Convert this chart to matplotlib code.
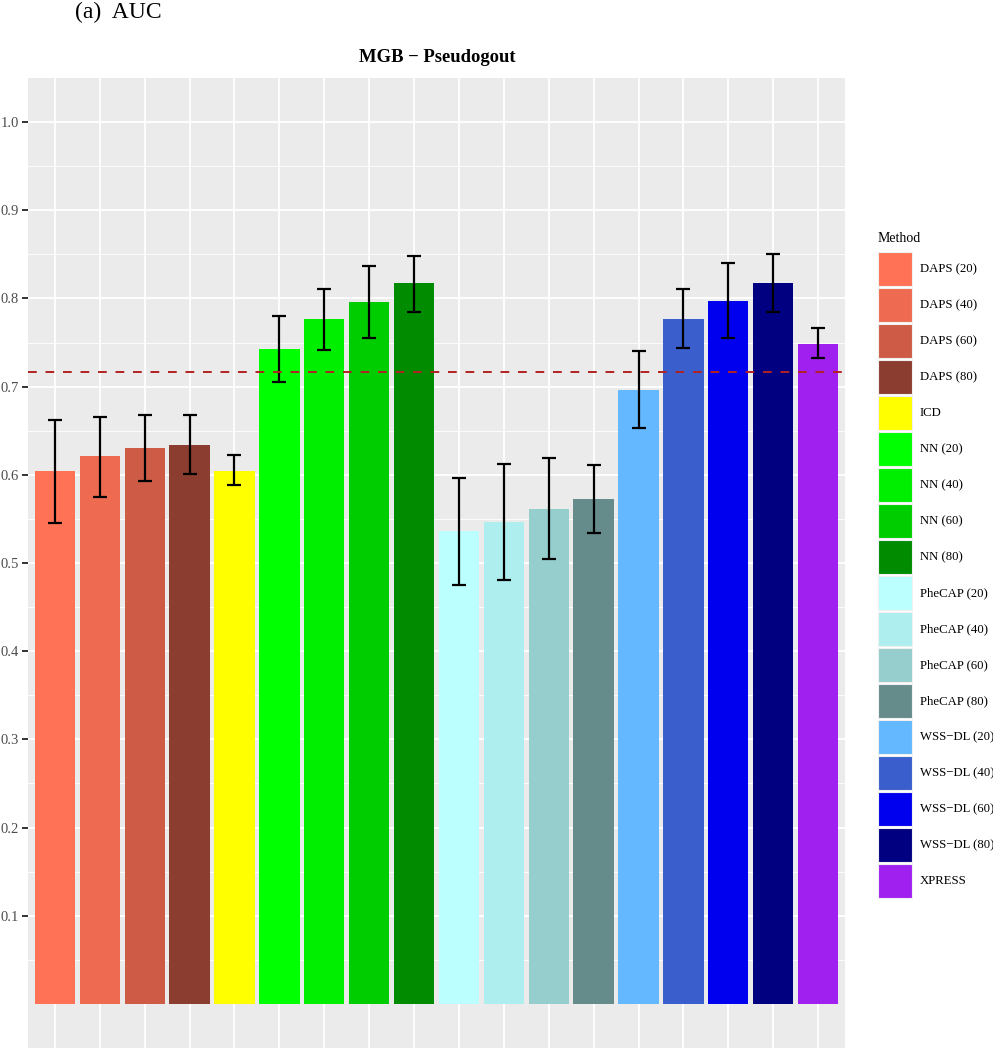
import matplotlib
matplotlib.use("Agg")
import matplotlib.pyplot as plt
import numpy as np
from matplotlib.patches import Rectangle

plt.rcParams['font.family'] = ['Liberation Serif', 'DejaVu Serif']

# data
methods = ['DAPS (20)', 'DAPS (40)', 'DAPS (60)', 'DAPS (80)', 'ICD',
           'NN (20)', 'NN (40)', 'NN (60)', 'NN (80)',
           'PheCAP (20)', 'PheCAP (40)', 'PheCAP (60)', 'PheCAP (80)',
           'WSS\u2212DL (20)', 'WSS\u2212DL (40)', 'WSS\u2212DL (60)', 'WSS\u2212DL (80)',
           'XPRESS']
auc = [0.604, 0.621, 0.630, 0.634, 0.604,
       0.743, 0.777, 0.796, 0.817,
       0.536, 0.546, 0.561, 0.573,
       0.696, 0.777, 0.797, 0.817,
       0.748]
lower = [0.545, 0.575, 0.593, 0.601, 0.588,
         0.705, 0.742, 0.755, 0.785,
         0.475, 0.481, 0.504, 0.534,
         0.653, 0.744, 0.755, 0.785,
         0.732]
upper = [0.662, 0.666, 0.668, 0.668, 0.622,
         0.780, 0.811, 0.837, 0.848,
         0.596, 0.612, 0.619, 0.611,
         0.740, 0.811, 0.840, 0.850,
         0.766]
colors = ['#FF7256', '#EE6A50', '#CD5B45', '#8B3E2F', '#FFFF00',
          '#00FF00', '#00EE00', '#00CD00', '#008B00',
          '#BBFFFF', '#AEEEEE', '#96CDCD', '#668B8B',
          '#63B8FF', '#3A5FCD', '#0000EE', '#000080',
          '#A020F0']
baseline = 0.717

W, H = 993, 1050
fig = plt.figure(figsize=(W/100, H/100), dpi=100)
ax = fig.add_axes([28/W, 2/H, (845-28)/W, (1048-78)/H])
ax.set_facecolor('#EBEBEB')

x = np.arange(1, len(methods) + 1)
auc = np.array(auc)
lower = np.array(lower)
upper = np.array(upper)

ax.bar(x, auc, width=0.9, color=colors, zorder=3)
ax.errorbar(x, auc, yerr=[auc - lower, upper - auc], fmt='none', ecolor='black',
            elinewidth=1.6, capsize=4.7, capthick=1.6, zorder=4)
ax.axhline(baseline, color='#B22222', linestyle=(0, (4.5, 4.5)), linewidth=1.4, zorder=5)

ax.set_xlim(0.4, len(methods) + 0.6)
ax.set_ylim(-0.05, 1.05)
ax.set_xticks(x)
ax.set_xticklabels([])
yt = np.arange(0.1, 1.01, 0.1)
ax.set_yticks(yt)
ax.set_yticklabels(['%.1f' % v for v in yt])
ax.set_yticks(np.arange(0.05, 1.0, 0.1), minor=True)
ax.tick_params(axis='y', which='major', length=4.5, width=1.4, color='#333333',
               labelsize=10.5, labelcolor='#4D4D4D', pad=2)
ax.tick_params(axis='x', which='major', length=0)
ax.tick_params(which='minor', length=0)
ax.grid(True, which='major', color='white', linewidth=1.3, zorder=0)
ax.grid(True, which='minor', axis='y', color='white', linewidth=0.6, zorder=0)
ax.set_axisbelow(True)
for s in ax.spines.values():
    s.set_visible(False)

fig.text(437/W, 1 - 57/H, 'MGB \u2212 Pseudogout', ha='center', va='center',
         fontsize=13.4, fontweight='bold')
fig.text(75/W, 1 - 12/H, '(a)  AUC', ha='left', va='center', fontsize=17)

# legend, ggplot style: square keys stacked
fig.text(878/W, 1 - 238/H, 'Method', ha='left', va='center', fontsize=10)
for i, (m, c) in enumerate(zip(methods, colors)):
    top = 252 + 36 * i
    fig.add_artist(Rectangle((878/W, 1 - (top + 34)/H), 34/W, 34/H,
                             transform=fig.transFigure, facecolor=c,
                             edgecolor='#F0F0F0', linewidth=0.8))
    fig.text(920/W, 1 - (top + 17)/H, m, ha='left', va='center', fontsize=9.2)

fig.savefig('out.png', dpi=100)
